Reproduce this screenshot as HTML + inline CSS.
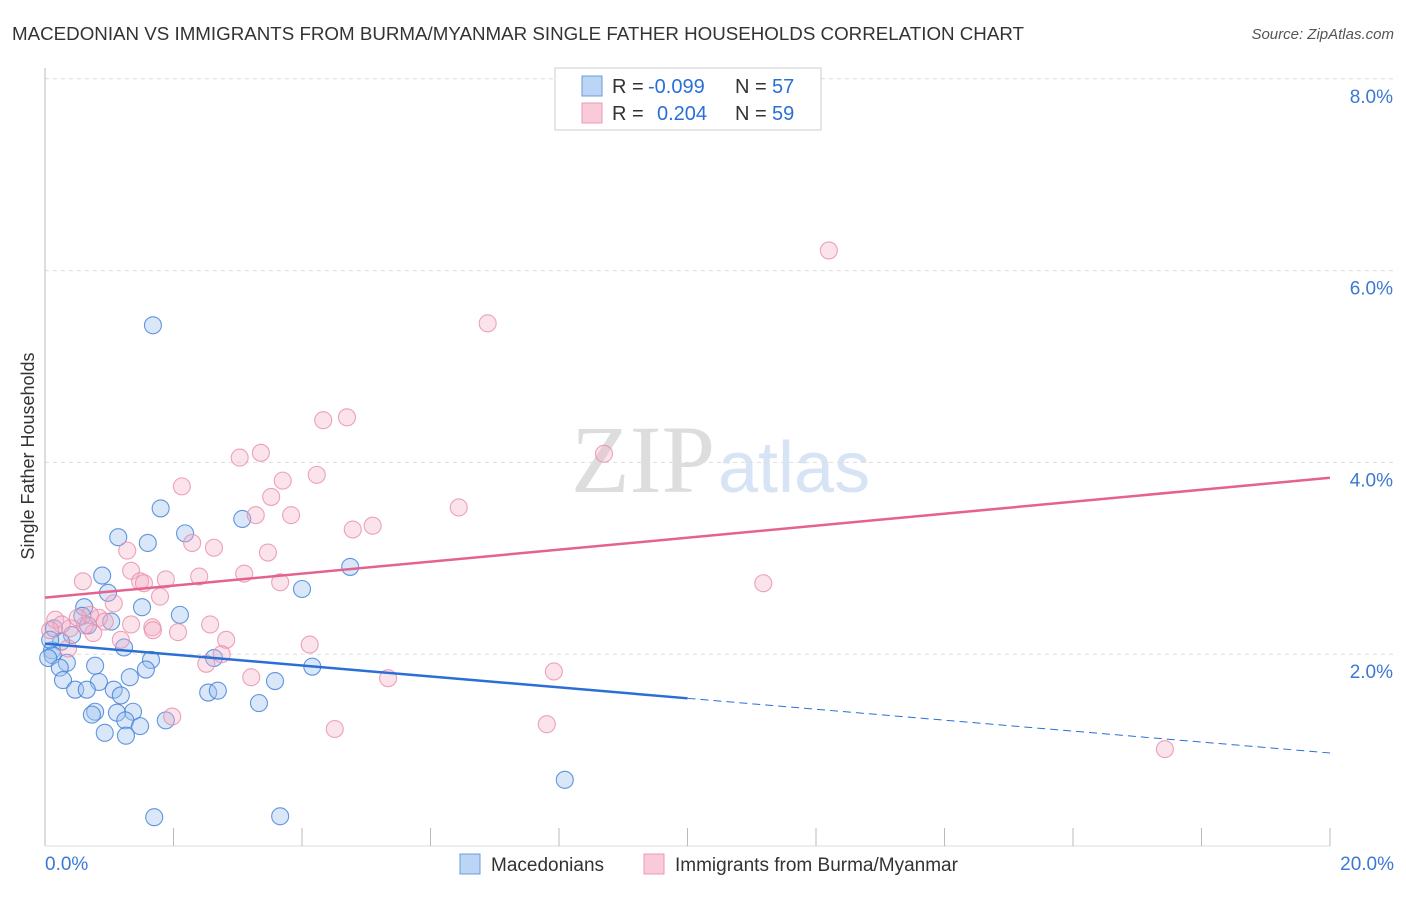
<!DOCTYPE html>
<html><head><meta charset="utf-8"><style>
body{margin:0;background:#fff;font-family:"Liberation Sans",sans-serif}
svg text{font-family:"Liberation Sans",sans-serif}
</style></head><body>
<svg id="c" width="1406" height="892">
<text x="12" y="40" font-size="18" fill="#333" textLength="1012" lengthAdjust="spacingAndGlyphs">MACEDONIAN VS IMMIGRANTS FROM BURMA/MYANMAR SINGLE FATHER HOUSEHOLDS CORRELATION CHART</text>
<text x="1394" y="39" font-size="15" fill="#555" font-style="italic" text-anchor="end">Source: ZipAtlas.com</text>
<text x="715" y="492" font-size="96" fill="#ddd" text-anchor="end" style="font-family:'Liberation Serif',serif">ZIP</text>
<text x="718" y="492" font-size="72" fill="#d6e4f5">atlas</text>
<text transform="translate(34,456) rotate(-90)" font-size="18" fill="#333" text-anchor="middle">Single Father Households</text>
<g id="grid"></g><g id="pts"></g><g id="lines"></g>
<g>
<rect x="555" y="68" width="266" height="62" fill="#fff" stroke="#ccc"/>
<rect x="582" y="76" width="20" height="20" fill="#bcd5f5" stroke="#6a9de0"/>
<rect x="582" y="103" width="20" height="20" fill="#f9cad9" stroke="#ea9bb6"/>
<text x="612" y="93" font-size="20" fill="#333">R =</text>
<text x="648" y="93" font-size="20" fill="#2a6fd6">-0.099</text>
<text x="735" y="93" font-size="20" fill="#333">N =</text>
<text x="772" y="93" font-size="20" fill="#2a6fd6">57</text>
<text x="612" y="120" font-size="20" fill="#333">R =</text>
<text x="657" y="120" font-size="20" fill="#2a6fd6">0.204</text>
<text x="735" y="120" font-size="20" fill="#333">N =</text>
<text x="772" y="120" font-size="20" fill="#2a6fd6">59</text>
</g>
<g>
<rect x="460" y="854" width="20" height="20" fill="#bcd5f5" stroke="#6a9de0"/>
<text x="491" y="871" font-size="19" fill="#333">Macedonians</text>
<rect x="644" y="854" width="20" height="20" fill="#f9cad9" stroke="#ea9bb6"/>
<text x="675" y="871" font-size="19" fill="#333">Immigrants from Burma/Myanmar</text>
</g>
</svg>
<script>
const yTicks=[8,6,4,2];
const xTickLabels=["0.0%","20.0%"];
const blueX=[1.68,1.80,2.18,3.07,1.14,1.60,4.75,0.89,4.00,0.98,0.61,1.51,2.10,0.58,1.03,0.67,0.14,0.42,0.25,1.23,0.11,0.12,0.05,2.63,1.65,0.34,4.16,0.78,0.23,1.57,1.32,3.58,0.28,0.84,0.47,0.65,1.07,1.18,2.54,2.69,3.33,0.78,0.73,1.37,1.12,1.25,1.48,0.93,1.88,1.26,8.09,1.70,3.66,0.08];
const blueY=[5.43,3.52,3.26,3.41,3.22,3.16,2.91,2.82,2.68,2.64,2.49,2.49,2.41,2.40,2.34,2.30,2.27,2.20,2.13,2.07,2.04,1.99,1.96,1.96,1.94,1.91,1.87,1.88,1.86,1.84,1.76,1.72,1.73,1.71,1.63,1.63,1.63,1.57,1.60,1.62,1.49,1.40,1.37,1.40,1.39,1.31,1.25,1.18,1.31,1.15,0.69,0.30,0.31,2.15];
const pinkX=[12.20,6.89,4.70,4.33,8.70,3.36,3.03,2.13,3.70,4.23,6.44,3.52,3.28,3.83,5.10,4.79,2.29,2.63,1.28,3.47,1.34,3.10,2.40,1.88,0.59,1.48,1.54,3.66,11.18,1.79,1.07,0.84,2.57,1.34,2.82,2.07,1.67,0.75,1.18,1.68,4.12,2.75,2.51,3.21,5.34,7.92,1.98,4.51,7.81,17.43,0.39,0.16,0.26,0.08,0.62,0.36,0.93,0.70,0.51];
const pinkY=[6.21,5.45,4.47,4.44,4.09,4.10,4.05,3.75,3.81,3.87,3.53,3.64,3.45,3.45,3.34,3.30,3.16,3.11,3.08,3.06,2.87,2.84,2.81,2.78,2.76,2.76,2.74,2.75,2.74,2.60,2.53,2.38,2.31,2.31,2.15,2.23,2.28,2.22,2.15,2.25,2.10,2.00,1.90,1.76,1.75,1.82,1.35,1.22,1.27,1.01,2.27,2.36,2.31,2.25,2.30,2.06,2.34,2.41,2.38];
const blueTrend=[2.11,0.97];
const pinkTrend=[2.59,3.84];
const X0=45,X1=1330,Y0=846,PY=95.9;
const sx=v=>X0+(X1-X0)*v/20, sy=v=>Y0-v*PY;
const NS="http://www.w3.org/2000/svg";
function mk(t,a,p){const e=document.createElementNS(NS,t);for(const k in a)e.setAttribute(k,a[k]);p.appendChild(e);return e;}
const g=document.getElementById('grid');
yTicks.forEach(t=>{
 const l=mk('line',{x1:X0,x2:1394,y1:sy(t),y2:sy(t),stroke:'#ddd','stroke-dasharray':'4,4'},g);
 
 
 const tx=mk('text',{x:1393,y:sy(t)+24,'font-size':19,fill:'#3b78d4','text-anchor':'end'},g);
 tx.textContent=t.toFixed(1)+'%';
 
 
});
const ax=mk('line',{x1:X0,x2:X0,y1:68,y2:Y0,stroke:'#bbb'},g);


const bx=mk('line',{x1:X0,x2:X1,y1:Y0,y2:Y0,stroke:'#ddd'},g);


for(let i=1;i<=10;i++){
 const t=mk('line',{x1:sx(i*2),x2:sx(i*2),y1:828,y2:Y0,stroke:'#bbb'},g);
 
 
}
[[0,'start',45],[1,'end',1394]].forEach(([i,a,x])=>{
 const t=mk('text',{x:x,y:870,'font-size':19,fill:'#3b78d4','text-anchor':a},g);
 t.textContent=xTickLabels[i];
 
 
});
const p=document.getElementById('pts');
blueX.forEach((v,i)=>{
 const c=mk('circle',{cx:sx(v),cy:sy(blueY[i]),r:8.5,fill:'rgba(160,196,240,0.4)',stroke:'rgba(60,125,215,0.8)','stroke-width':1.1},p);
 
 
});
pinkX.forEach((v,i)=>{
 const c=mk('circle',{cx:sx(v),cy:sy(pinkY[i]),r:8.5,fill:'rgba(244,175,198,0.35)',stroke:'rgba(232,140,172,0.8)','stroke-width':1.1},p);
 
 
});
const L=document.getElementById('lines');
const bm=(blueTrend[0]+blueTrend[1])/2;
const b1=mk('line',{x1:sx(0),y1:sy(blueTrend[0]),x2:sx(10),y2:sy(bm),stroke:'#2a6fd6','stroke-width':2.5},L);


const b2=mk('line',{x1:sx(10),y1:sy(bm),x2:sx(20),y2:sy(blueTrend[1]),stroke:'#2a6fd6','stroke-width':1,'stroke-dasharray':'8,5'},L);


const pl=mk('line',{x1:sx(0),y1:sy(pinkTrend[0]),x2:sx(20),y2:sy(pinkTrend[1]),stroke:'#e4628e','stroke-width':2.5},L);


</script>
</body></html>
